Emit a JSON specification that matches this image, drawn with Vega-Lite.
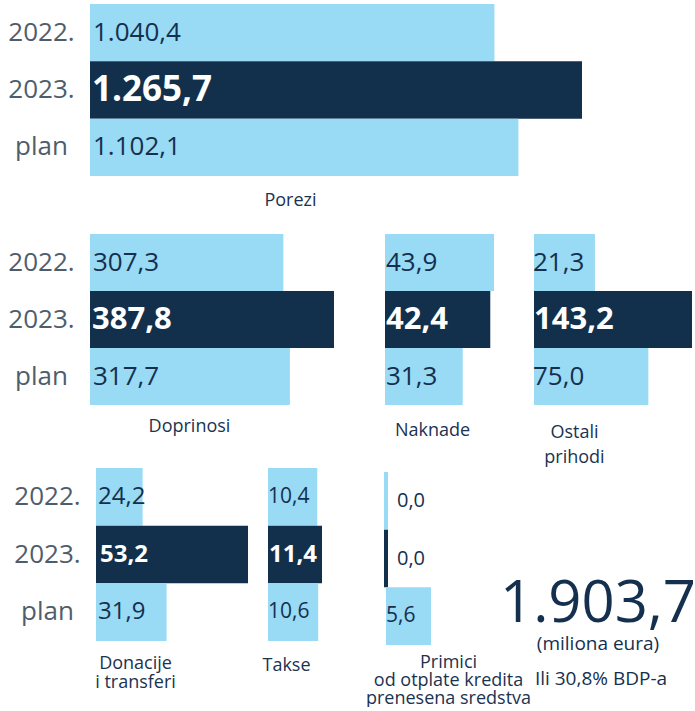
{
  "$schema": "https://vega.github.io/schema/vega-lite/v6.json",
  "padding": {"left": 7, "top": 4, "right": 0, "bottom": 0},
  "config": {
    "font": "Open Sans",
    "view": {"stroke": null},
    "locale": {"number": {"decimal": ",", "thousands": ".", "grouping": [3], "currency": ["", " €"]}},
    "axisX": {"labels": false, "ticks": false, "domain": false, "grid": false, "titleFontSize": 18, "titleFontWeight": "normal", "titleColor": "#1a3350", "titleAlign": "center", "titleBaseline": "middle", "titleFont": "Open Sans"},
    "axisY": {"ticks": false, "tickSize": 0, "domain": false, "grid": false, "labelFontSize": 26, "labelColor": "#4e5d6c", "labelAlign": "center", "labelBaseline": "middle", "labelPadding": 49, "labelFont": "Open Sans"}
  },
  "data": {"values": [
    {"cat": "Porezi", "year": "2022.", "value": 1040.4},
    {"cat": "Porezi", "year": "2023.", "value": 1265.7},
    {"cat": "Porezi", "year": "plan", "value": 1102.1},
    {"cat": "Doprinosi", "year": "2022.", "value": 307.3},
    {"cat": "Doprinosi", "year": "2023.", "value": 387.8},
    {"cat": "Doprinosi", "year": "plan", "value": 317.7},
    {"cat": "Naknade", "year": "2022.", "value": 43.9},
    {"cat": "Naknade", "year": "2023.", "value": 42.4},
    {"cat": "Naknade", "year": "plan", "value": 31.3},
    {"cat": "Ostali prihodi", "year": "2022.", "value": 21.3},
    {"cat": "Ostali prihodi", "year": "2023.", "value": 143.2},
    {"cat": "Ostali prihodi", "year": "plan", "value": 75.0},
    {"cat": "Donacije i transferi", "year": "2022.", "value": 24.2},
    {"cat": "Donacije i transferi", "year": "2023.", "value": 53.2},
    {"cat": "Donacije i transferi", "year": "plan", "value": 31.9},
    {"cat": "Takse", "year": "2022.", "value": 10.4},
    {"cat": "Takse", "year": "2023.", "value": 11.4},
    {"cat": "Takse", "year": "plan", "value": 10.6},
    {"cat": "Primici", "year": "2022.", "value": 0},
    {"cat": "Primici", "year": "2023.", "value": 0},
    {"cat": "Primici", "year": "plan", "value": 5.6}
  ]},
  "spacing": 0,
  "vconcat": [
    {
      "width": 492, "height": 230,
      "transform": [{"filter": "datum.cat === 'Porezi'"}],
      "encoding": {"y": {"field": "year", "type": "nominal", "sort": ["2022.", "2023.", "plan"], "scale": {"type": "band", "range": [0, 172], "paddingInner": 0, "paddingOuter": 0}, "axis": {"title": null}}},
      "layer": [
        {"mark": "bar", "encoding": {
          "x": {"field": "value", "type": "quantitative", "scale": {"domain": [0, 1265.7], "range": [0, 492], "nice": false}, "axis": {"title": "Porezi", "titleX": 200, "titleY": -34}},
          "color": {"field": "year", "type": "nominal", "scale": {"domain": ["2022.", "2023.", "plan"], "range": ["#99daf4", "#12304c", "#99daf4"]}, "legend": null}}},
        {"transform": [{"filter": "datum.year !== '2023.'"}], "mark": {"type": "text", "align": "left", "baseline": "middle", "dx": 3, "fontSize": 26, "color": "#15304e"},
          "encoding": {"x": {"datum": 0, "type": "quantitative"}, "text": {"field": "value", "type": "quantitative", "format": ",.1f"}}},
        {"transform": [{"filter": "datum.year === '2023.'"}], "mark": {"type": "text", "align": "left", "baseline": "middle", "dx": 2, "fontSize": 35, "fontWeight": "bold", "color": "#ffffff"},
          "encoding": {"x": {"datum": 0, "type": "quantitative"}, "text": {"field": "value", "type": "quantitative", "format": ",.1f"}}}
      ]
    },
    {
      "bounds": "flush",
      "spacing": 40,
      "hconcat": [
        {
          "width": 255, "height": 234,
          "transform": [{"filter": "datum.cat === 'Doprinosi'"}],
          "encoding": {"y": {"field": "year", "type": "nominal", "sort": ["2022.", "2023.", "plan"], "scale": {"type": "band", "range": [0, 171], "paddingInner": 0, "paddingOuter": 0}, "axis": {"title": null}}},
          "layer": [
            {"mark": "bar", "encoding": {
              "x": {"field": "value", "type": "quantitative", "scale": {"domain": [0, 387.8], "range": [0, 244], "nice": false}, "axis": {"title": "Doprinosi", "titleX": 99, "titleY": -42}},
              "color": {"field": "year", "type": "nominal", "scale": {"domain": ["2022.", "2023.", "plan"], "range": ["#99daf4", "#12304c", "#99daf4"]}, "legend": null}}},
            {"transform": [{"filter": "datum.year !== '2023.'"}], "mark": {"type": "text", "align": "left", "baseline": "middle", "dx": 3, "fontSize": 26, "color": "#15304e"},
              "encoding": {"x": {"datum": 0, "type": "quantitative"}, "text": {"field": "value", "type": "quantitative", "format": ",.1f"}}},
            {"transform": [{"filter": "datum.year === '2023.'"}], "mark": {"type": "text", "align": "left", "baseline": "middle", "dx": 2, "fontSize": 31, "fontWeight": "bold", "color": "#ffffff"},
              "encoding": {"x": {"datum": 0, "type": "quantitative"}, "text": {"field": "value", "type": "quantitative", "format": ",.1f"}}}
          ]
        },
        {
          "width": 109, "height": 234,
          "transform": [{"filter": "datum.cat === 'Naknade'"}],
          "encoding": {"y": {"field": "year", "type": "nominal", "sort": ["2022.", "2023.", "plan"], "scale": {"type": "band", "range": [0, 171], "paddingInner": 0, "paddingOuter": 0}, "axis": null}},
          "layer": [
            {"mark": "bar", "encoding": {
              "x": {"field": "value", "type": "quantitative", "scale": {"domain": [0, 43.9], "range": [0, 109], "nice": false}, "axis": {"title": "Naknade", "titleX": 47, "titleY": -38}},
              "color": {"field": "year", "type": "nominal", "scale": {"domain": ["2022.", "2023.", "plan"], "range": ["#99daf4", "#12304c", "#99daf4"]}, "legend": null}}},
            {"transform": [{"filter": "datum.year !== '2023.'"}], "mark": {"type": "text", "align": "left", "baseline": "middle", "dx": 1, "fontSize": 26, "color": "#15304e"},
              "encoding": {"x": {"datum": 0, "type": "quantitative"}, "text": {"field": "value", "type": "quantitative", "format": ",.1f"}}},
            {"transform": [{"filter": "datum.year === '2023.'"}], "mark": {"type": "text", "align": "left", "baseline": "middle", "dx": 1, "fontSize": 31, "fontWeight": "bold", "color": "#ffffff"},
              "encoding": {"x": {"datum": 0, "type": "quantitative"}, "text": {"field": "value", "type": "quantitative", "format": ",.1f"}}}
          ]
        },
        {
          "width": 158, "height": 234,
          "transform": [{"filter": "datum.cat === 'Ostali prihodi'"}],
          "encoding": {"y": {"field": "year", "type": "nominal", "sort": ["2022.", "2023.", "plan"], "scale": {"type": "band", "range": [0, 171], "paddingInner": 0, "paddingOuter": 0}, "axis": null}},
          "layer": [
            {"mark": "bar", "encoding": {
              "x": {"field": "value", "type": "quantitative", "scale": {"type": "sqrt", "domain": [0, 143.2], "range": [0, 158], "nice": false}, "axis": {"title": ["Ostali", "prihodi"], "titleX": 40, "titleY": -36, "titleLineHeight": 25}},
              "color": {"field": "year", "type": "nominal", "scale": {"domain": ["2022.", "2023.", "plan"], "range": ["#99daf4", "#12304c", "#99daf4"]}, "legend": null}}},
            {"transform": [{"filter": "datum.year !== '2023.'"}], "mark": {"type": "text", "align": "left", "baseline": "middle", "dx": -1, "fontSize": 26, "color": "#15304e"},
              "encoding": {"x": {"datum": 0, "type": "quantitative"}, "text": {"field": "value", "type": "quantitative", "format": ",.1f"}}},
            {"transform": [{"filter": "datum.year === '2023.'"}], "mark": {"type": "text", "align": "left", "baseline": "middle", "dx": 0, "fontSize": 31, "fontWeight": "bold", "color": "#ffffff"},
              "encoding": {"x": {"datum": 0, "type": "quantitative"}, "text": {"field": "value", "type": "quantitative", "format": ",.1f"}}}
          ]
        }
      ]
    },
    {
      "bounds": "flush",
      "spacing": 20,
      "hconcat": [
        {
          "width": 158, "height": 173,
          "transform": [{"filter": "datum.cat === 'Donacije i transferi'"}],
          "encoding": {"y": {"field": "year", "type": "nominal", "sort": ["2022.", "2023.", "plan"], "scale": {"type": "band", "paddingInner": 0, "paddingOuter": 0}, "axis": {"title": null, "labelPadding": 43}}},
          "layer": [
            {"mark": "bar", "encoding": {
              "x": {"field": "value", "type": "quantitative", "scale": {"type": "pow", "exponent": 1.5, "domain": [0, 53.2], "range": [6, 158], "nice": false}, "axis": {"title": ["Donacije", "i transferi"], "titleX": 45, "titleY": 22, "titleLineHeight": 19}},
              "color": {"field": "year", "type": "nominal", "scale": {"domain": ["2022.", "2023.", "plan"], "range": ["#99daf4", "#12304c", "#99daf4"]}, "legend": null}}},
            {"transform": [{"filter": "datum.year !== '2023.'"}], "mark": {"type": "text", "align": "left", "baseline": "middle", "dx": 2, "fontSize": 24, "color": "#15304e"},
              "encoding": {"x": {"datum": 0, "type": "quantitative"}, "text": {"field": "value", "type": "quantitative", "format": ",.1f"}}},
            {"transform": [{"filter": "datum.year === '2023.'"}], "mark": {"type": "text", "align": "left", "baseline": "middle", "dx": 4, "fontSize": 24, "fontWeight": "bold", "color": "#ffffff"},
              "encoding": {"x": {"datum": 0, "type": "quantitative"}, "text": {"field": "value", "type": "quantitative", "format": ",.1f"}}}
          ]
        },
        {
          "width": 96, "height": 173,
          "transform": [{"filter": "datum.cat === 'Takse'"}],
          "encoding": {"y": {"field": "year", "type": "nominal", "sort": ["2022.", "2023.", "plan"], "scale": {"type": "band", "paddingInner": 0, "paddingOuter": 0}, "axis": null}},
          "layer": [
            {"mark": "bar", "encoding": {
              "x": {"field": "value", "type": "quantitative", "scale": {"domain": [0, 11.4], "range": [0, 54], "nice": false}, "axis": {"title": "Takse", "titleX": 18, "titleY": 24}},
              "color": {"field": "year", "type": "nominal", "scale": {"domain": ["2022.", "2023.", "plan"], "range": ["#99daf4", "#12304c", "#99daf4"]}, "legend": null}}},
            {"transform": [{"filter": "datum.year !== '2023.'"}], "mark": {"type": "text", "align": "left", "baseline": "middle", "dx": 0, "fontSize": 21, "color": "#15304e"},
              "encoding": {"x": {"datum": 0, "type": "quantitative"}, "text": {"field": "value", "type": "quantitative", "format": ",.1f"}}},
            {"transform": [{"filter": "datum.year === '2023.'"}], "mark": {"type": "text", "align": "left", "baseline": "middle", "dx": 1, "fontSize": 24, "fontWeight": "bold", "color": "#ffffff"},
              "encoding": {"x": {"datum": 0, "type": "quantitative"}, "text": {"field": "value", "type": "quantitative", "format": ",.1f"}}}
          ]
        },
        {
          "width": 47, "height": 173,
          "transform": [{"filter": "datum.cat === 'Primici'"}],
          "encoding": {"y": {"field": "year", "type": "nominal", "sort": ["2022.", "2023.", "plan"], "scale": {"type": "band", "range": [4, 177], "paddingInner": 0, "paddingOuter": 0}, "axis": null}},
          "layer": [
            {"mark": "bar", "encoding": {
              "x": {"field": "value", "type": "quantitative", "scale": {"domain": [0, 5.6], "range": [2, 47], "nice": false}, "axis": {"title": ["Primici", "od otplate kredita", "prenesena sredstva"], "titleX": 64, "titleY": 21, "titleLineHeight": 18}},
              "color": {"field": "year", "type": "nominal", "scale": {"domain": ["2022.", "2023.", "plan"], "range": ["#99daf4", "#12304c", "#99daf4"]}, "legend": null},
              "stroke": {"field": "year", "type": "nominal", "scale": {"domain": ["2022.", "2023.", "plan"], "range": ["#99daf4", "#12304c", "#99daf4"]}, "legend": null},
              "strokeWidth": {"condition": {"test": "datum.value === 0", "value": 4}, "value": 0}}},
            {"transform": [{"filter": "datum.value === 0"}], "mark": {"type": "text", "align": "left", "baseline": "middle", "dx": 11, "fontSize": 20, "color": "#15304e"},
              "encoding": {"x": {"datum": 0, "type": "quantitative"}, "text": {"field": "value", "type": "quantitative", "format": ",.1f"}}},
            {"transform": [{"filter": "datum.value !== 0"}], "mark": {"type": "text", "align": "left", "baseline": "middle", "dx": 0, "fontSize": 21, "color": "#15304e"},
              "encoding": {"x": {"datum": 0, "type": "quantitative"}, "text": {"field": "value", "type": "quantitative", "format": ",.1f"}}}
          ]
        },
        {
          "width": 200, "height": 173,
          "layer": [
            {"transform": [{"filter": "datum.year === '2023.'"}, {"aggregate": [{"op": "sum", "field": "value", "as": "total"}]}],
              "mark": {"type": "text", "align": "center", "baseline": "middle", "dx": 47, "dy": 50, "fontSize": 58, "color": "#15304e"},
              "encoding": {"text": {"field": "total", "type": "quantitative", "format": ",.1f"}}},
            {"data": {"values": [{"t": "(miliona eura)"}]},
              "mark": {"type": "text", "align": "center", "baseline": "middle", "dx": 47, "dy": 89, "fontSize": 19, "color": "#15304e"},
              "encoding": {"text": {"field": "t", "type": "nominal"}}},
            {"data": {"values": [{"t": "Ili 30,8% BDP-a"}]},
              "mark": {"type": "text", "align": "center", "baseline": "middle", "dx": 50, "dy": 124, "fontSize": 19, "color": "#15304e"},
              "encoding": {"text": {"field": "t", "type": "nominal"}}}
          ]
        }
      ]
    }
  ]
}
